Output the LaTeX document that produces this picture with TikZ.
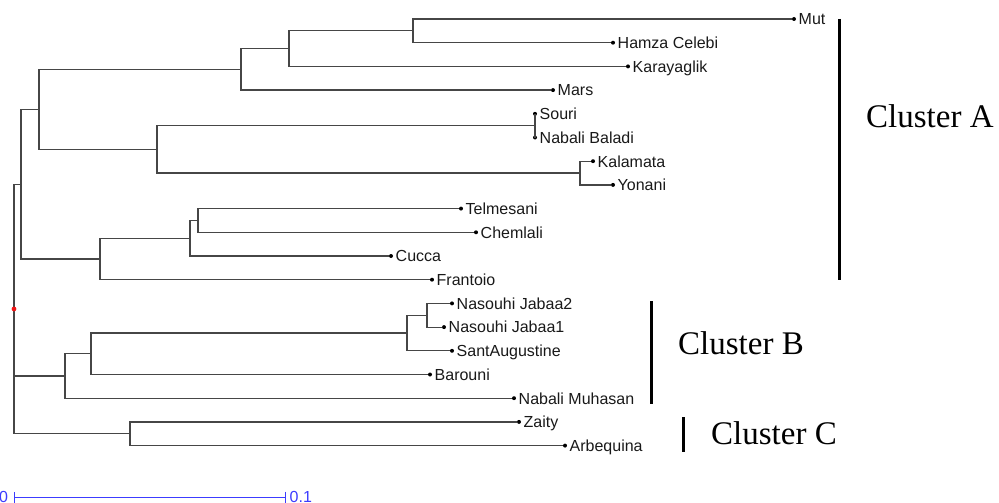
\documentclass[tikz,border=0pt]{standalone}
\usepackage{fontspec}
\setmainfont{Liberation Serif}
\setsansfont{Liberation Sans}
\usetikzlibrary{arrows.meta}
\definecolor{branchgray}{RGB}{70,70,70}
\definecolor{scaleblue}{RGB}{60,60,255}
\definecolor{rootred}{RGB}{240,20,20}

% leaf: name, x, row, label
\newcommand\leaf[4]{%
  \node[tip] (#1) at (#2,{19+23.7*(#3)}) {};
  \node[lbl] (#1-t) at ([xshift=4.5pt,yshift=-5.8pt]#1.center) {#4};}
% internal node: name, x, row
\newcommand\fork[3]{\coordinate (#1) at (#2,{19+23.7*(#3)});}

\begin{document}
\begin{tikzpicture}[x=1pt,y=-1pt,
  branch/.style={draw=branchgray,line width=1.2pt},
  tip/.style={circle,fill=black,inner sep=0pt,minimum size=4pt},
  lbl/.style={anchor=base west,inner sep=0pt,text=black!90,
    font=\sffamily\fontsize{16}{16}\selectfont},
  clbar/.style={draw=black,line width=3pt},
  cltext/.style={anchor=base west,inner sep=0pt,text=black,
    font=\rmfamily\fontsize{33}{33}\selectfont},
  scalebar/.style={draw=scaleblue,line width=1pt},
  scaletext/.style={anchor=base west,inner sep=0pt,text=scaleblue,
    font=\sffamily\fontsize{16}{16}\selectfont},
]
\useasboundingbox (0,0) rectangle (999,503);

% tips
\leaf{mut}{794}{0}{Mut}
\leaf{hamza}{613}{1}{Hamza Celebi}
\leaf{kara}{628}{2}{Karayaglik}
\leaf{mars}{553}{3}{Mars}
\leaf{souri}{535}{4}{Souri}
\leaf{nbaladi}{535}{5}{Nabali Baladi}
\leaf{kalam}{593}{6}{Kalamata}
\leaf{yonani}{613}{7}{Yonani}
\leaf{telm}{461}{8}{Telmesani}
\leaf{cheml}{476}{9}{Chemlali}
\leaf{cucca}{391}{10}{Cucca}
\leaf{frant}{432}{11}{Frantoio}
\leaf{nj2}{452}{12}{Nasouhi Jabaa2}
\leaf{nj1}{444}{13}{Nasouhi Jabaa1}
\leaf{sant}{452}{14}{SantAugustine}
\leaf{barouni}{430}{15}{Barouni}
\leaf{nmuh}{514}{16}{Nabali Muhasan}
\leaf{zaity}{519}{17}{Zaity}
\leaf{arbeq}{565}{18}{Arbequina}

% internal forks
\fork{a5}{413}{0.5}
\fork{a4}{289}{1.25}
\fork{a3}{241}{2.125}
\fork{a7}{535}{4.5}
\fork{a8}{580}{6.5}
\fork{a6}{157}{5.5}
\fork{a2}{39}{3.8125}
\fork{a11}{198}{8.5}
\fork{a10}{190}{9.25}
\fork{a9}{100}{10.125}
\fork{a1}{21}{6.96875}
\fork{b4}{427}{12.5}
\fork{b3}{407}{13.25}
\fork{b2}{91}{14.125}
\fork{b1}{65}{15.0625}
\fork{c1}{130}{17.5}
\fork{root}{14}{12.234375}

% branches
\draw[branch] (a5) |- (mut);   \draw[branch] (a5) |- (hamza);
\draw[branch] (a4) |- (a5);    \draw[branch] (a4) |- (kara);
\draw[branch] (a3) |- (a4);    \draw[branch] (a3) |- (mars);
\draw[branch] (a7) |- (souri); \draw[branch] (a7) |- (nbaladi);
\draw[branch] (a8) |- (kalam); \draw[branch] (a8) |- (yonani);
\draw[branch] (a6) |- (a7);    \draw[branch] (a6) |- (a8);
\draw[branch] (a2) |- (a3);    \draw[branch] (a2) |- (a6);
\draw[branch] (a11) |- (telm); \draw[branch] (a11) |- (cheml);
\draw[branch] (a10) |- (a11);  \draw[branch] (a10) |- (cucca);
\draw[branch] (a9) |- (a10);   \draw[branch] (a9) |- (frant);
\draw[branch] (a1) |- (a2);    \draw[branch] (a1) |- (a9);
\draw[branch] (b4) |- (nj2);   \draw[branch] (b4) |- (nj1);
\draw[branch] (b3) |- (b4);    \draw[branch] (b3) |- (sant);
\draw[branch] (b2) |- (b3);    \draw[branch] (b2) |- (barouni);
\draw[branch] (b1) |- (b2);    \draw[branch] (b1) |- (nmuh);
\draw[branch] (c1) |- (zaity); \draw[branch] (c1) |- (arbeq);
\draw[branch] (root) |- (a1);
\draw[branch] (root) |- (b1);
\draw[branch] (root) |- (c1);
\fill[rootred] (root) circle (2.4pt);

% cluster brackets
\coordinate (clA-top) at (839,19);  \coordinate (clA-bot) at (839,280);
\coordinate (clB-top) at (651,301); \coordinate (clB-bot) at (651,404);
\coordinate (clC-top) at (683,417); \coordinate (clC-bot) at (683,452);
\draw[clbar] (clA-top) -- (clA-bot);
\draw[clbar] (clB-top) -- (clB-bot);
\draw[clbar] (clC-top) -- (clC-bot);
\node[cltext] (clA) at (866,127) {Cluster A};
\node[cltext] (clB) at (678,354) {Cluster B};
\node[cltext] (clC) at (711,444) {Cluster C};

% scale bar
\coordinate (sb0) at (14,497);
\coordinate (sb1) at (286,497);
\draw[scalebar,{Bar[width=11pt]}-{Bar[width=11pt]}] (sb0) -- (sb1);
\node[scaletext] (sb0-t) at (-1.2,502) {0};
\node[scaletext] (sb1-t) at (289.5,502) {0.1};
\end{tikzpicture}
\end{document}
